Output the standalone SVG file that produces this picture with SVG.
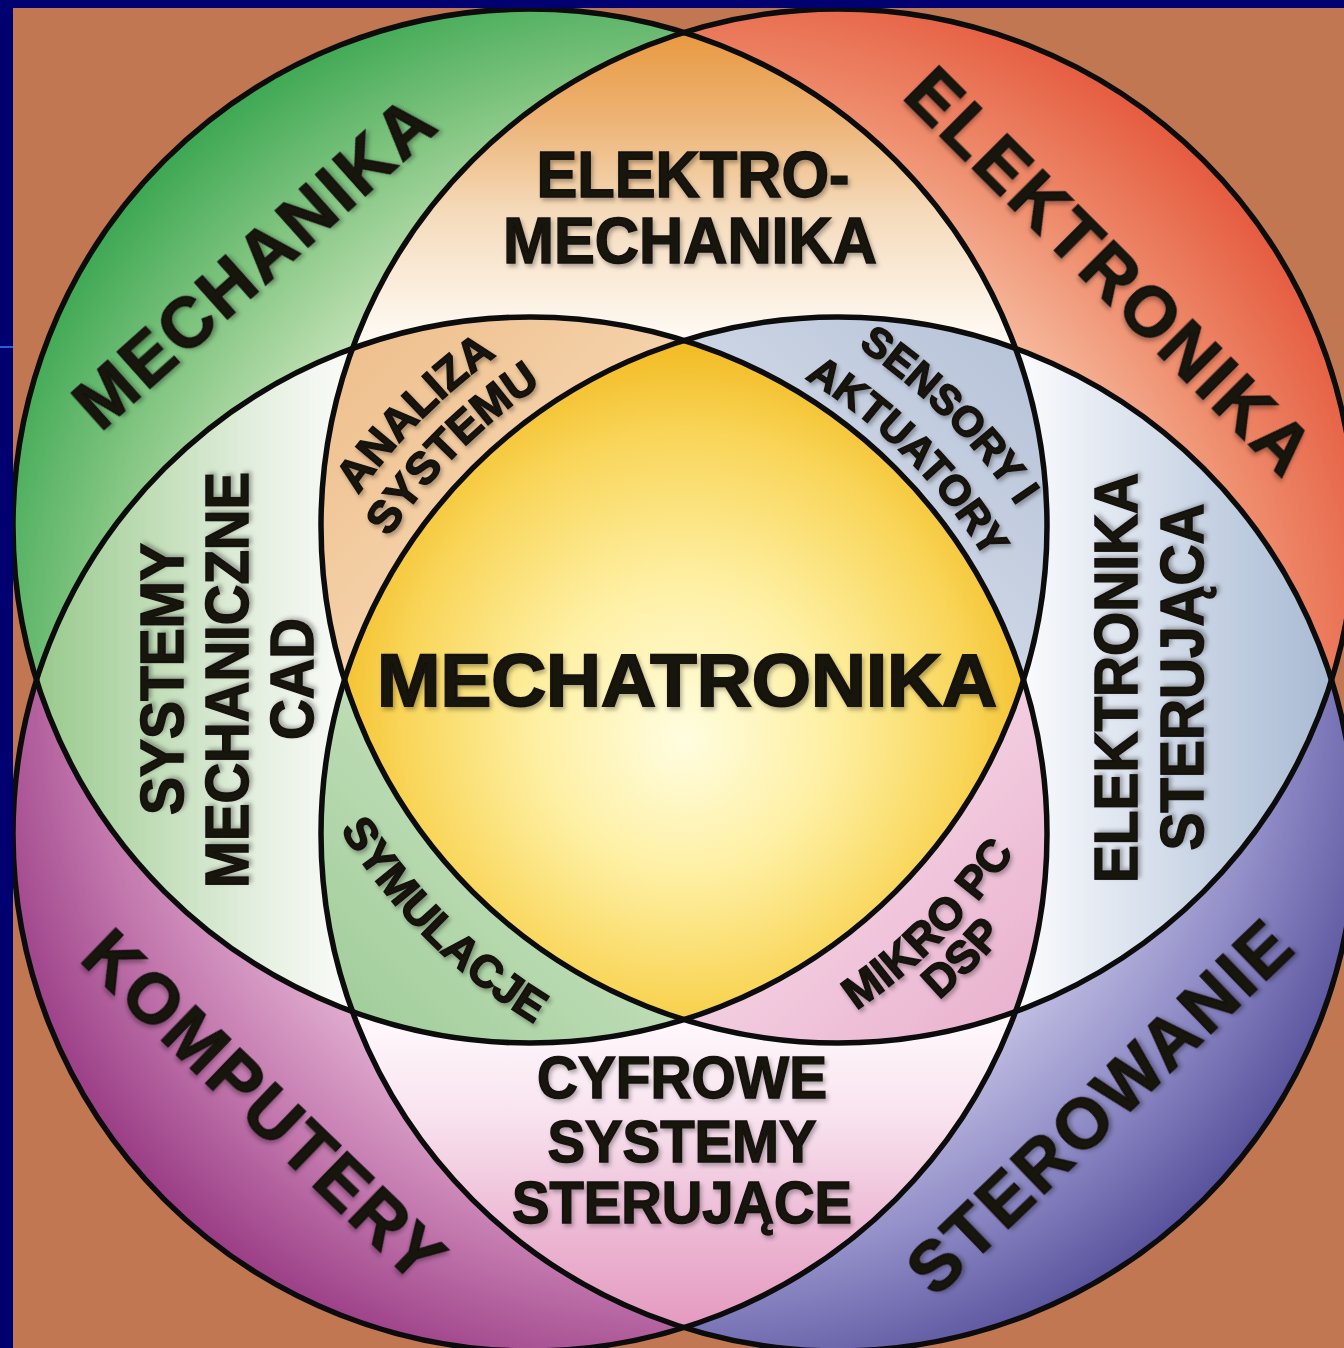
<svg xmlns="http://www.w3.org/2000/svg" width="1344" height="1348" viewBox="0 0 1344 1348">
<style>
.t{font-family:"Liberation Sans",Arial,Helvetica,sans-serif;font-weight:700;fill:#141210;stroke:#141210;stroke-width:1.5;filter:url(#sh)}
.out{font-size:70px}
.big{font-size:64px}
.mid{font-size:60px}
.sm{font-size:45px}
.xs{font-size:42px}
.ring{fill:none;stroke:#0c0c0c;stroke-width:5.5}
</style>
<defs>
<filter id="sh" x="-10%" y="-30%" width="120%" height="170%">
<feDropShadow dx="2" dy="3" stdDeviation="2" flood-color="#000" flood-opacity="0.3"/>
</filter>
<clipPath id="cG"><circle cx="530" cy="526" r="517"/></clipPath>
<clipPath id="cR"><circle cx="838" cy="526" r="517"/></clipPath>
<clipPath id="cP"><circle cx="530" cy="834" r="517"/></clipPath>
<clipPath id="cB"><circle cx="838" cy="834" r="517"/></clipPath>
<radialGradient id="gG" gradientUnits="userSpaceOnUse" cx="684" cy="680" r="740">
<stop offset="0.62" stop-color="#C6E3B9"/><stop offset="0.8" stop-color="#86C784"/><stop offset="1" stop-color="#3AA651"/>
</radialGradient>
<radialGradient id="gR" gradientUnits="userSpaceOnUse" cx="684" cy="680" r="740">
<stop offset="0.62" stop-color="#F7BCA0"/><stop offset="0.8" stop-color="#EE8C6C"/><stop offset="1" stop-color="#E5593E"/>
</radialGradient>
<radialGradient id="gP" gradientUnits="userSpaceOnUse" cx="684" cy="680" r="740">
<stop offset="0.62" stop-color="#E2B0D2"/><stop offset="0.8" stop-color="#C47AAF"/><stop offset="1" stop-color="#983A84"/>
</radialGradient>
<radialGradient id="gB" gradientUnits="userSpaceOnUse" cx="684" cy="680" r="740">
<stop offset="0.62" stop-color="#C3C2E4"/><stop offset="0.8" stop-color="#928EC8"/><stop offset="1" stop-color="#56509B"/>
</radialGradient>
<linearGradient id="pTop" gradientUnits="userSpaceOnUse" x1="684" y1="32" x2="684" y2="330">
<stop offset="0" stop-color="#E8993F"/><stop offset="0.3" stop-color="#EDB477"/><stop offset="0.6" stop-color="#F5DABA"/><stop offset="1" stop-color="#FEF8F0"/>
</linearGradient>
<linearGradient id="pBot" gradientUnits="userSpaceOnUse" x1="684" y1="1328" x2="684" y2="1030">
<stop offset="0" stop-color="#E49AC0"/><stop offset="0.35" stop-color="#EDBAD5"/><stop offset="0.7" stop-color="#F8E2EE"/><stop offset="1" stop-color="#FEF6FA"/>
</linearGradient>
<linearGradient id="pLeft" gradientUnits="userSpaceOnUse" x1="36" y1="680" x2="340" y2="680">
<stop offset="0" stop-color="#98C98C"/><stop offset="0.4" stop-color="#C2DEB9"/><stop offset="0.75" stop-color="#E6F0E2"/><stop offset="1" stop-color="#F8FAF6"/>
</linearGradient>
<linearGradient id="pRight" gradientUnits="userSpaceOnUse" x1="1332" y1="680" x2="1030" y2="680">
<stop offset="0" stop-color="#A8BAD3"/><stop offset="0.4" stop-color="#C6D2E3"/><stop offset="0.75" stop-color="#E3E9F2"/><stop offset="1" stop-color="#F8F9FC"/>
</linearGradient>
<linearGradient id="tTL" gradientUnits="userSpaceOnUse" x1="350" y1="350" x2="520" y2="520">
<stop offset="0" stop-color="#EFC08E"/><stop offset="1" stop-color="#F5D3AC"/>
</linearGradient>
<linearGradient id="tTR" gradientUnits="userSpaceOnUse" x1="1018" y1="350" x2="848" y2="520">
<stop offset="0" stop-color="#B8C4D9"/><stop offset="1" stop-color="#CDD6E5"/>
</linearGradient>
<linearGradient id="tBL" gradientUnits="userSpaceOnUse" x1="350" y1="1012" x2="520" y2="842">
<stop offset="0" stop-color="#A2CE9B"/><stop offset="1" stop-color="#BFDDB7"/>
</linearGradient>
<linearGradient id="tBR" gradientUnits="userSpaceOnUse" x1="1018" y1="1012" x2="848" y2="842">
<stop offset="0" stop-color="#EAB3CF"/><stop offset="1" stop-color="#F3CFE1"/>
</linearGradient>
<radialGradient id="gC" gradientUnits="userSpaceOnUse" cx="684" cy="710" r="360" fx="684" fy="740">
<stop offset="0" stop-color="#FFFDE0"/><stop offset="0.4" stop-color="#FEF0A4"/><stop offset="0.78" stop-color="#F9D65A"/><stop offset="1" stop-color="#F3BD28"/>
</radialGradient>
<path id="aAna" d="M270.1,684.4 A588,588 0 0 1 685.8,266.1"/>
<path id="aSys" d="M318.3,694.7 A538,538 0 0 1 698.8,314.3"/>
<path id="aSen" d="M681.9,266.9 A587,587 0 0 1 1097,682.1"/>
<path id="aAkt" d="M667.7,320.1 A532,532 0 0 1 1043.9,696.3"/>
<path id="aSym" d="M274.8,676.9 A583,583 0 0 0 687.1,1089.1"/>
<path id="aMik" d="M681.1,1090.1 A584,584 0 0 0 1094.1,677.1"/>
<path id="aDsp" d="M692,1130.7 A626,626 0 0 0 1134.7,688"/>
</defs>

<rect x="0" y="0" width="1344" height="1348" fill="#C27753"/>

<g id="circle-mechanika"><circle cx="530" cy="526" r="517" fill="url(#gG)"/></g>
<g id="circle-elektronika"><circle cx="838" cy="526" r="517" fill="url(#gR)"/></g>
<g id="circle-komputery"><circle cx="530" cy="834" r="517" fill="url(#gP)"/></g>
<g id="circle-sterowanie"><circle cx="838" cy="834" r="517" fill="url(#gB)"/></g>

<g id="region-elektromechanika" clip-path="url(#cG)"><circle cx="838" cy="526" r="517" fill="url(#pTop)"/></g>
<g id="region-systemy-cad" clip-path="url(#cG)"><circle cx="530" cy="834" r="517" fill="url(#pLeft)"/></g>
<g id="region-elektronika-sterujaca" clip-path="url(#cR)"><circle cx="838" cy="834" r="517" fill="url(#pRight)"/></g>
<g id="region-cyfrowe" clip-path="url(#cP)"><circle cx="838" cy="834" r="517" fill="url(#pBot)"/></g>

<g id="region-analiza" clip-path="url(#cG)"><g clip-path="url(#cR)"><circle cx="530" cy="834" r="517" fill="url(#tTL)"/></g></g>
<g id="region-sensory" clip-path="url(#cG)"><g clip-path="url(#cR)"><circle cx="838" cy="834" r="517" fill="url(#tTR)"/></g></g>
<g id="region-symulacje" clip-path="url(#cG)"><g clip-path="url(#cP)"><circle cx="838" cy="834" r="517" fill="url(#tBL)"/></g></g>
<g id="region-mikro" clip-path="url(#cR)"><g clip-path="url(#cP)"><circle cx="838" cy="834" r="517" fill="url(#tBR)"/></g></g>

<g id="region-mechatronika" clip-path="url(#cG)"><g clip-path="url(#cR)"><g clip-path="url(#cP)"><circle cx="838" cy="834" r="517" fill="url(#gC)"/></g></g></g>

<g id="outlines">
<circle class="ring" cx="530" cy="526" r="517"/>
<circle class="ring" cx="838" cy="526" r="517"/>
<circle class="ring" cx="530" cy="834" r="517"/>
<circle class="ring" cx="838" cy="834" r="517"/>
</g>

<g id="labels">
<text class="t out" transform="translate(270,281) rotate(-41.8)" text-anchor="middle" textLength="455" lengthAdjust="spacing">MECHANIKA</text>
<text class="t out" transform="translate(1092,288) rotate(45)" text-anchor="middle" textLength="540" lengthAdjust="spacing">ELEKTRONIKA</text>
<text class="t out" transform="translate(247,1123) rotate(44)" text-anchor="middle" textLength="469" lengthAdjust="spacing">KOMPUTERY</text>
<text class="t out" transform="translate(1116,1125) rotate(-43.9)" text-anchor="middle" textLength="501" lengthAdjust="spacing">STEROWANIE</text>

<text class="t big" x="693" y="197" text-anchor="middle" textLength="313" lengthAdjust="spacingAndGlyphs">ELEKTRO-</text>
<text class="t big" x="690" y="263" text-anchor="middle" textLength="374" lengthAdjust="spacingAndGlyphs">MECHANIKA</text>

<text class="t mid" x="682" y="1098" text-anchor="middle" textLength="290" lengthAdjust="spacingAndGlyphs">CYFROWE</text>
<text class="t mid" x="682" y="1162" text-anchor="middle" textLength="269" lengthAdjust="spacingAndGlyphs">SYSTEMY</text>
<text class="t mid" x="682" y="1223" text-anchor="middle" textLength="340" lengthAdjust="spacingAndGlyphs">STERUJĄCE</text>

<text class="t" style="font-size:62px" transform="translate(183,679) rotate(-90)" text-anchor="middle" textLength="272" lengthAdjust="spacingAndGlyphs">SYSTEMY</text>
<text class="t" style="font-size:62px" transform="translate(248,680) rotate(-90)" text-anchor="middle" textLength="416" lengthAdjust="spacingAndGlyphs">MECHANICZNE</text>
<text class="t" style="font-size:62px" transform="translate(313,679) rotate(-90)" text-anchor="middle" textLength="122" lengthAdjust="spacingAndGlyphs">CAD</text>

<text class="t" style="font-size:62px" transform="translate(1137,678) rotate(-90)" text-anchor="middle" textLength="410" lengthAdjust="spacingAndGlyphs">ELEKTRONIKA</text>
<text class="t" style="font-size:62px" transform="translate(1203,677) rotate(-90)" text-anchor="middle" textLength="347" lengthAdjust="spacingAndGlyphs">STERUJĄCA</text>

<text class="t sm"><textPath href="#aAna" startOffset="50%" text-anchor="middle">ANALIZA</textPath></text>
<text class="t sm"><textPath href="#aSys" startOffset="50%" text-anchor="middle">SYSTEMU</textPath></text>
<text class="t xs"><textPath href="#aSen" startOffset="50%" text-anchor="middle">SENSORY I</textPath></text>
<text class="t xs"><textPath href="#aAkt" startOffset="50%" text-anchor="middle">AKTUATORY</textPath></text>
<text class="t sm"><textPath href="#aSym" startOffset="50%" text-anchor="middle">SYMULACJE</textPath></text>
<text class="t sm"><textPath href="#aMik" startOffset="50%" text-anchor="middle">MIKRO PC</textPath></text>
<text class="t sm"><textPath href="#aDsp" startOffset="50%" text-anchor="middle">DSP</textPath></text>

<text class="t" style="font-size:74px;stroke-width:2" x="687" y="706" text-anchor="middle" textLength="620" lengthAdjust="spacingAndGlyphs">MECHATRONIKA</text>
</g>

<g id="frame">
<rect x="0" y="0" width="1344" height="8" fill="#000070"/>
<rect x="0" y="0" width="13" height="1348" fill="#000070"/>
<rect x="0" y="346" width="13" height="2" fill="#2A5CE0"/>
</g>
</svg>
